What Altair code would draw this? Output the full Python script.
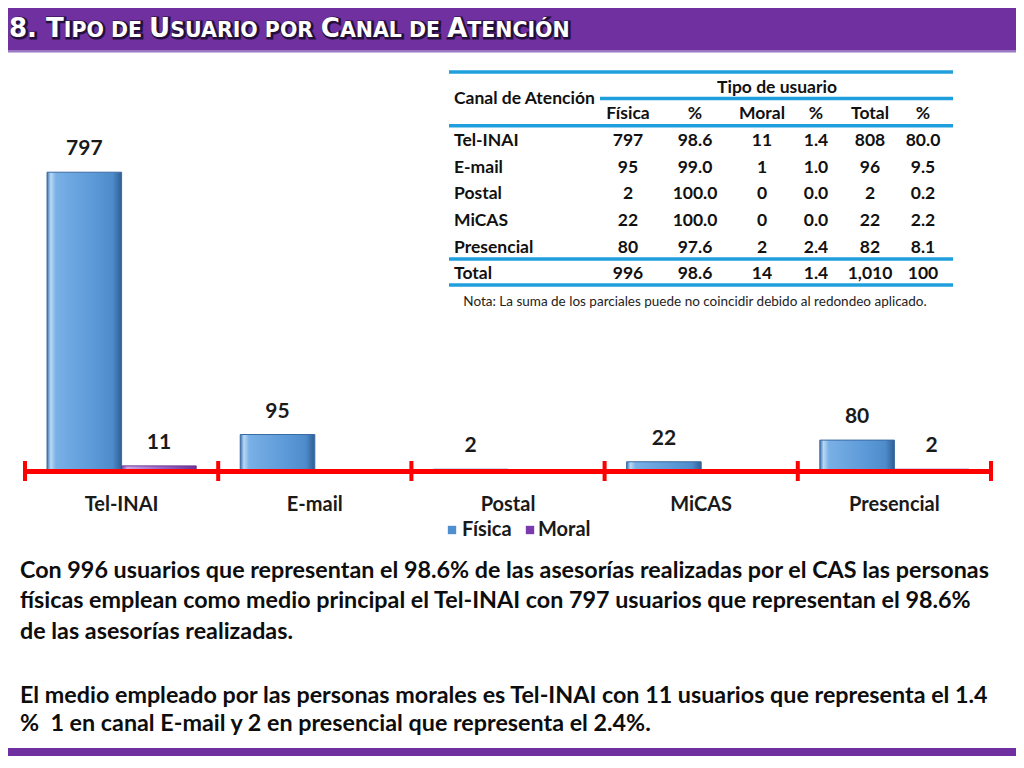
import altair as alt
import pandas as pd

# ---------------- data ----------------
channels = ["Tel-INAI", "E-mail", "Postal", "MiCAS", "Presencial"]
tipos = ["Física", "Moral"]
fisica = [797, 95, 2, 22, 80]
moral = [11, 1, 0, 0, 2]
fisica_pct = [98.6, 99.0, 100.0, 100.0, 97.6]
moral_pct = [1.4, 1.0, 0.0, 0.0, 2.4]
total = [808, 96, 2, 22, 82]
total_pct = [80.0, 9.5, 0.2, 2.2, 8.1]
total_row = ["996", "98.6", "14", "1.4", "1,010", "100"]
table_header = ["Física", "%", "Moral", "%", "Total", "%"]

title_segments = [("8. T", True), ("IPO DE ", False), ("U", True), ("SUARIO POR ", False),
                  ("C", True), ("ANAL DE ", False), ("A", True), ("TENCIÓN", False)]
paragraph = [
    "Con 996 usuarios que representan el 98.6% de las asesorías realizadas por el CAS las personas",
    "físicas emplean como medio principal el Tel-INAI con 797 usuarios que representan el 98.6%",
    "de las asesorías realizadas.",
    "El medio empleado por las personas morales es Tel-INAI con 11 usuarios que representa el 1.4",
    "%\u00a0 1 en canal E-mail y 2 en presencial que representa el 2.4%.",
]
nota = "Nota: La suma de los parciales puede no coincidir debido al redondeo aplicado."

# ---------------- layout / style ----------------
W, H = 966, 411
PURPLE = "#7030A0"
BLUE_LINE = "#1F9FDD"
RED = "#FF0000"
TXT = "#111111"
FONT = "Lato"

one = pd.DataFrame({"k": [0]})

bars = pd.DataFrame(
    [{"canal": c, "tipo": "Física", "valor": v} for c, v in zip(channels, fisica)]
    + [{"canal": c, "tipo": "Moral", "valor": v} for c, v in zip(channels, moral)]
)
labels = bars[bars["valor"] > 1]

xband = alt.Scale(domain=channels, paddingInner=0.228, paddingOuter=0.114)
xoff = alt.Scale(domain=tipos, paddingInner=0, paddingOuter=0)
yscale = alt.Scale(domain=[0, 1100])

layers = []

# banner
layers.append(alt.Chart(one).mark_rect(color=PURPLE).encode(
    x=alt.value(-17), x2=alt.value(991), y=alt.value(-51), y2=alt.value(-9)))
layers.append(alt.Chart(one).mark_rect(color="#9A78C4").encode(
    x=alt.value(-17), x2=alt.value(991), y=alt.value(-9), y2=alt.value(-6.5)))

# title with small caps (DejaVu Sans Bold advance widths per 1000 em)
dv = {" ": 348, ".": 380, "8": 696, "A": 774, "C": 734, "D": 830, "E": 683, "I": 372,
      "L": 637, "N": 837, "O": 850, "Ó": 850, "P": 733, "R": 770, "S": 720, "T": 682, "U": 812}
BIG, SMALL = 26, 20.5
xpos = -16
for seg, big in title_segments:
    size = BIG if big else SMALL
    for dx, col, sw in [(1.2, "#24103A", 3.0), (0, "#FFFFFF", 0)]:
        kw = dict(text=seg, align="left", baseline="alphabetic", font="DejaVu Sans",
                  fontWeight="bold", fontSize=size, fill=col)
        if sw:
            kw.update(stroke=col, strokeWidth=sw)
        layers.append(alt.Chart(one).mark_text(**kw).encode(
            x=alt.value(xpos + dx), y=alt.value(-22 + dx)))
    xpos += sum(dv.get(ch, 600) for ch in seg) * size / 1000

# table rules
for y, x1, x2 in [(13, 424, 928), (39.5, 575, 928), (66.7, 424, 928), (200, 424, 928), (226, 424, 928)]:
    layers.append(alt.Chart(one).mark_rule(color=BLUE_LINE, strokeWidth=3.5).encode(
        x=alt.value(x1), x2=alt.value(x2), y=alt.value(y)))

# table text
cells = []
for j, h in enumerate(table_header):
    cells.append({"ri": 0, "ci": j + 1, "t": h})
for i in range(len(channels)):
    vals = [f"{fisica[i]:,}", f"{fisica_pct[i]:.1f}", f"{moral[i]:,}", f"{moral_pct[i]:.1f}",
            f"{total[i]:,}", f"{total_pct[i]:.1f}"]
    for j, v in enumerate(vals):
        cells.append({"ri": i + 1, "ci": j + 1, "t": v})
for j, v in enumerate(total_row):
    cells.append({"ri": len(channels) + 1, "ci": j + 1, "t": v})
cells = pd.DataFrame(cells)
rowlab = pd.DataFrame({"ri": list(range(1, len(channels) + 2)), "t": channels + ["Total"]})

yrow = alt.Scale(domain=[0, len(channels) + 1], range=[55.3, 215.3])
xcol = alt.Scale(domain=[1, 2, 3, 4, 5, 6], range=[603, 670, 737, 791, 845, 898])
tstyle = dict(font=FONT, fontWeight="bold", fontSize=17.5, color=TXT, baseline="middle")

layers.append(alt.Chart(cells).mark_text(align="center", **tstyle).encode(
    x=alt.X("ci:Q", scale=xcol, axis=None), y=alt.Y("ri:Q", scale=yrow, axis=None), text="t:N"))
layers.append(alt.Chart(rowlab).mark_text(align="left", **tstyle).encode(
    x=alt.value(429), y=alt.Y("ri:Q", scale=yrow, axis=None), text="t:N"))
layers.append(alt.Chart(one).mark_text(text="Canal de Atención", align="left", **tstyle).encode(
    x=alt.value(429), y=alt.value(40.3)))
layers.append(alt.Chart(one).mark_text(text="Tipo de usuario", align="center", **tstyle).encode(
    x=alt.value(752), y=alt.value(28.7)))
layers.append(alt.Chart(one).mark_text(text=nota, align="center", font=FONT, fontSize=13.5,
                                       color="#222222", baseline="middle").encode(
    x=alt.value(670), y=alt.value(243)))

# bars
grad_f = alt.Gradient(gradient="linear", x1=0, x2=1, y1=0, y2=0, stops=[
    alt.GradientStop(color="#3C73B0", offset=0),
    alt.GradientStop(color="#B9D8F5", offset=0.05),
    alt.GradientStop(color="#79B0E6", offset=0.12),
    alt.GradientStop(color="#5D9AD8", offset=0.6),
    alt.GradientStop(color="#4E8BCB", offset=0.88),
    alt.GradientStop(color="#2F5E93", offset=1)])
grad_m = alt.Gradient(gradient="linear", x1=0, x2=1, y1=0, y2=0, stops=[
    alt.GradientStop(color="#7A45A8", offset=0),
    alt.GradientStop(color="#C9A8E6", offset=0.08),
    alt.GradientStop(color="#9C6CC9", offset=0.5),
    alt.GradientStop(color="#6A3596", offset=1)])
for t, g, s in [("Física", grad_f, "#3A6BA3"), ("Moral", grad_m, "#6A3596")]:
    layers.append(alt.Chart(bars).transform_filter(alt.datum.tipo == t).mark_bar(
        fill=g, stroke=s, strokeWidth=1).encode(
        x=alt.X("canal:N", scale=xband, axis=None),
        xOffset=alt.XOffset("tipo:N", scale=xoff),
        y=alt.Y("valor:Q", scale=yscale, axis=None)))

# red axis with ticks
layers.append(alt.Chart(one).mark_rule(color=RED, strokeWidth=5).encode(
    x=alt.value(-1), x2=alt.value(W + 1), y=alt.value(H + 1.5)))
ticks = pd.DataFrame({"b": list(range(len(channels) + 1))})
layers.append(alt.Chart(ticks).mark_rule(color=RED, strokeWidth=4).encode(
    x=alt.X("b:Q", scale=alt.Scale(domain=[0, len(channels)]), axis=None),
    y=alt.value(H - 9), y2=alt.value(H + 11)))

# value labels
layers.append(alt.Chart(labels).mark_text(font=FONT, fontWeight="bold", fontSize=21,
                                          color="#1A1A1A", dy=-23, baseline="middle").encode(
    x=alt.X("canal:N", scale=xband, axis=None),
    xOffset=alt.XOffset("tipo:N", scale=xoff),
    y=alt.Y("valor:Q", scale=yscale, axis=None),
    text="valor:Q"))

# category labels
cats = pd.DataFrame({"canal": channels})
layers.append(alt.Chart(cats).mark_text(font=FONT, fontWeight="bold", fontSize=20,
                                        color="#1A1A1A", baseline="middle").encode(
    x=alt.X("canal:N", scale=xband, axis=None), y=alt.value(446), text="canal:N"))

# legend
for t, col, sx, tx in [("Física", "#4F8FD0", 427, 437), ("Moral", "#7A3AAE", 505, 513)]:
    layers.append(alt.Chart(one).mark_square(size=70, color=col, opacity=1).encode(
        x=alt.value(sx), y=alt.value(471)))
    layers.append(alt.Chart(one).mark_text(text=t, align="left", baseline="middle", font=FONT,
                                           fontWeight="bold", fontSize=20, color="#1A1A1A").encode(
        x=alt.value(tx), y=alt.value(471)))

# paragraph
for line, y in zip(paragraph, [512, 542, 573, 637, 665]):
    layers.append(alt.Chart(one).mark_text(text=line, align="left", baseline="middle", font=FONT,
                                           fontWeight="bold", fontSize=23.3, color="#0D0D0D").encode(
        x=alt.value(-5), y=alt.value(y)))

# bottom bar
layers.append(alt.Chart(one).mark_rect(color=PURPLE).encode(
    x=alt.value(-17), x2=alt.value(991), y=alt.value(689), y2=alt.value(698)))

chart = alt.layer(*layers).resolve_scale(x="independent", y="independent").properties(
    width=W, height=H,
    padding={"left": 17, "top": 51, "right": 25, "bottom": 286},
    autosize=alt.AutoSizeParams(type="none"),
).configure_view(stroke=None)

chart.save("out.html", embed_options={"renderer": "svg", "actions": False})
